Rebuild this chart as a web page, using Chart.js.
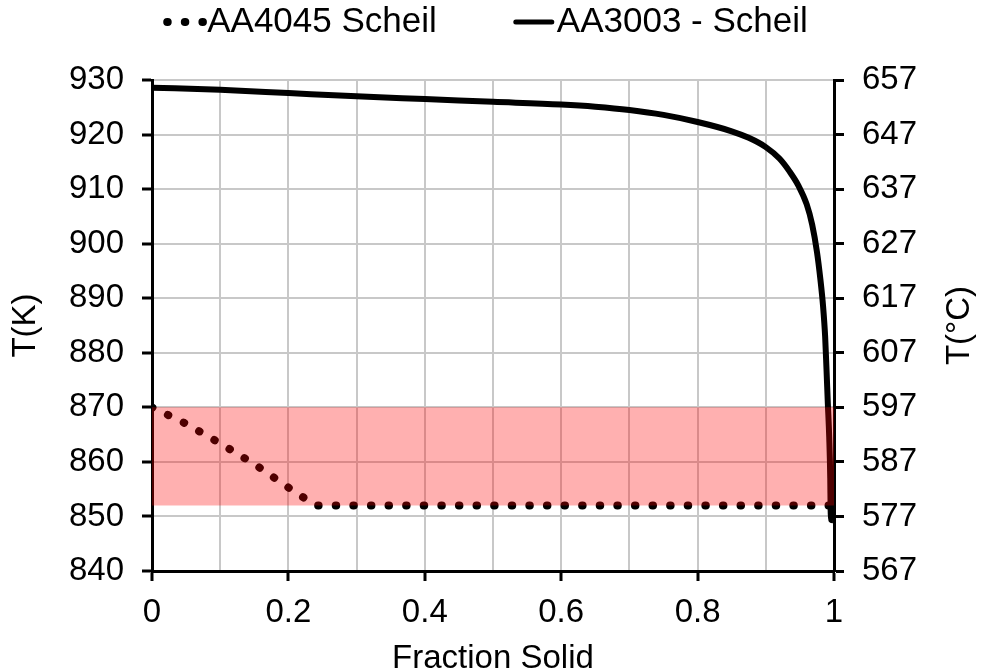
<!DOCTYPE html>
<html>
<head>
<meta charset="utf-8">
<title>Scheil solidification</title>
<script src="https://cdn.jsdelivr.net/npm/chart.js@4.4.1/dist/chart.umd.min.js"></script>
<style>
    html, body { margin: 0; padding: 0; background: #fff; }
    canvas { display: block; }
</style>
</head>
<body>
<canvas id="scheilChart" width="981" height="672"></canvas>
<script>
// AA4045 Scheil path
const aa4045Frac = [0, 0.05, 0.1, 0.15, 0.2, 0.24, 1.0];
const aa4045Temp = [870, 867, 863.4, 859.6, 855.3, 852, 852];

// AA3003 Scheil path
const aa3003Frac = [0, 0.1, 0.2, 0.3, 0.4, 0.5, 0.6, 0.65, 0.7, 0.75, 0.8, 0.85, 0.875, 0.9, 0.92,
    0.935, 0.948, 0.96, 0.968, 0.975, 0.98, 0.984, 0.987, 0.989, 0.991, 0.993, 0.9945, 0.995, 0.9955, 0.9985];
const aa3003Temp = [928.6, 928.2, 927.6, 927.0, 926.5, 926.0, 925.5, 925.1, 924.5, 923.6, 922.3, 920.6, 919.4, 917.7, 915.6,
    913.2, 910.6, 907.2, 903.5, 898.5, 893.5, 888.5, 883.0, 877.0, 870.6, 864.5, 857.0, 851.5, 849.4, 849.3];

// brazing window
const bandLow = 852;
const bandHigh = 870;

// axis ticks
const kelvinTicks = [840, 850, 860, 870, 880, 890, 900, 910, 920, 930];
const celsiusTicks = [567, 577, 587, 597, 607, 617, 627, 637, 647, 657];
const fracGrid = [0, 0.1, 0.2, 0.3, 0.4, 0.5, 0.6, 0.7, 0.8, 0.9, 1];
const fracLabels = [0, 0.2, 0.4, 0.6, 0.8, 1];

const FONT = '"Liberation Sans", Arial, sans-serif';
Chart.defaults.font.family = FONT;
Chart.defaults.color = '#000';

function toPoints(xs, ys) {
    return xs.map((x, i) => ({ x: x, y: ys[i] }));
}

// legend drawn as a single row above the plot
const legendRow = {
    id: 'legendRow',
    afterDraw(chart) {
        const ctx = chart.ctx;
        const sets = chart.data.datasets.filter(d => d.label);
        const sample = 42, gap = 2, spacing = 76, y = 22;
        ctx.save();
        ctx.font = '35px ' + FONT;
        ctx.textBaseline = 'middle';
        ctx.fillStyle = '#000';
        const widths = sets.map(d => sample + gap + ctx.measureText(d.label).width);
        const total = widths.reduce((a, b) => a + b, 0) + spacing * (sets.length - 1);
        let x = chart.width / 2 - 5 - total / 2;
        sets.forEach((d, i) => {
            ctx.beginPath();
            ctx.strokeStyle = d.borderColor;
            ctx.lineCap = 'round';
            if (d.borderDash) {
                ctx.lineWidth = d.borderWidth;
                ctx.setLineDash(d.borderDash);
                ctx.moveTo(x + 4, y);
                ctx.lineTo(x + sample - 1, y);
            } else {
                ctx.lineWidth = 5;
                ctx.setLineDash([]);
                ctx.moveTo(x + 3, y);
                ctx.lineTo(x + sample - 3, y);
            }
            ctx.stroke();
            ctx.fillText(d.label, x + sample + gap, y);
            x += widths[i] + spacing;
        });
        ctx.restore();
    }
};

// right axis title reads bottom to top like the left one
const rightTitle = {
    id: 'rightTitle',
    afterDraw(chart, args, opts) {
        const ctx = chart.ctx;
        const area = chart.chartArea;
        ctx.save();
        ctx.font = opts.size + 'px ' + FONT;
        ctx.fillStyle = '#000';
        ctx.textAlign = 'center';
        ctx.textBaseline = 'middle';
        ctx.translate(opts.x, (area.top + area.bottom) / 2);
        ctx.rotate(-Math.PI / 2);
        ctx.fillText(opts.text, 0, 0);
        ctx.restore();
    }
};

const tickFont = { size: 33 };

new Chart(document.getElementById('scheilChart'), {
    type: 'line',
    data: {
        datasets: [
            {
                // shaded window, drawn over the curves
                data: [{ x: 0, y: bandHigh }, { x: 1, y: bandHigh }],
                borderWidth: 0,
                pointRadius: 0,
                backgroundColor: 'rgba(255, 0, 0, 0.31)',
                fill: { value: bandLow },
                order: 0
            },
            {
                label: 'AA4045 Scheil',
                data: toPoints(aa4045Frac, aa4045Temp),
                borderColor: '#000',
                borderWidth: 8,
                borderDash: [0.5, 17.1],
                borderCapStyle: 'round',
                pointRadius: 0,
                tension: 0,
                order: 2
            },
            {
                label: 'AA3003 - Scheil',
                data: toPoints(aa3003Frac, aa3003Temp),
                borderColor: '#000',
                borderWidth: 6,
                pointRadius: 0,
                cubicInterpolationMode: 'monotone',
                order: 1
            }
        ]
    },
    options: {
        responsive: false,
        animation: false,
        layout: { padding: { top: 80, left: 0, right: 0, bottom: 0 } },
        plugins: {
            legend: { display: false },
            tooltip: { enabled: false },
            rightTitle: { text: 'T(°C)', x: 960, size: 33 }
        },
        scales: {
            x: {
                type: 'linear',
                min: 0,
                max: 1,
                afterBuildTicks: s => { s.ticks = fracGrid.map(v => ({ value: v })); },
                afterFit: s => { s.height = 101; },
                ticks: {
                    font: tickFont,
                    padding: 12,
                    autoSkip: false,
                    maxRotation: 0,
                    callback: v => fracLabels.includes(v) ? String(v) : ''
                },
                grid: {
                    color: '#c8c8c8',
                    lineWidth: 2,
                    tickLength: 10,
                    tickWidth: 3,
                    tickColor: c => (c.tick && fracLabels.includes(c.tick.value)) ? '#000' : 'rgba(0,0,0,0)'
                },
                border: { color: '#000', width: 3 },
                title: {
                    display: true,
                    text: 'Fraction Solid',
                    font: { size: 33, lineHeight: 0.82 },
                    padding: { top: 0, bottom: 0 }
                }
            },
            y: {
                type: 'linear',
                position: 'left',
                min: 840,
                max: 930,
                afterBuildTicks: s => { s.ticks = kelvinTicks.map(v => ({ value: v })); },
                afterFit: s => { s.width = 152; },
                ticks: { font: tickFont, padding: 18 },
                grid: {
                    color: '#c8c8c8',
                    lineWidth: 2,
                    tickLength: 10,
                    tickWidth: 3,
                    tickColor: '#000'
                },
                border: { color: '#000', width: 3 },
                title: {
                    display: true,
                    text: 'T(K)',
                    font: { size: 33 },
                    padding: { top: 6, bottom: 0 }
                }
            },
            y2: {
                type: 'linear',
                position: 'right',
                min: 567,
                max: 657,
                afterBuildTicks: s => { s.ticks = celsiusTicks.map(v => ({ value: v })); },
                afterFit: s => { s.width = 147; },
                ticks: { font: tickFont, padding: 18 },
                grid: {
                    drawOnChartArea: false,
                    tickLength: 10,
                    tickWidth: 3,
                    tickColor: '#000'
                },
                border: { color: '#000', width: 3 }
            }
        }
    },
    plugins: [legendRow, rightTitle]
});
</script>
</body>
</html>
